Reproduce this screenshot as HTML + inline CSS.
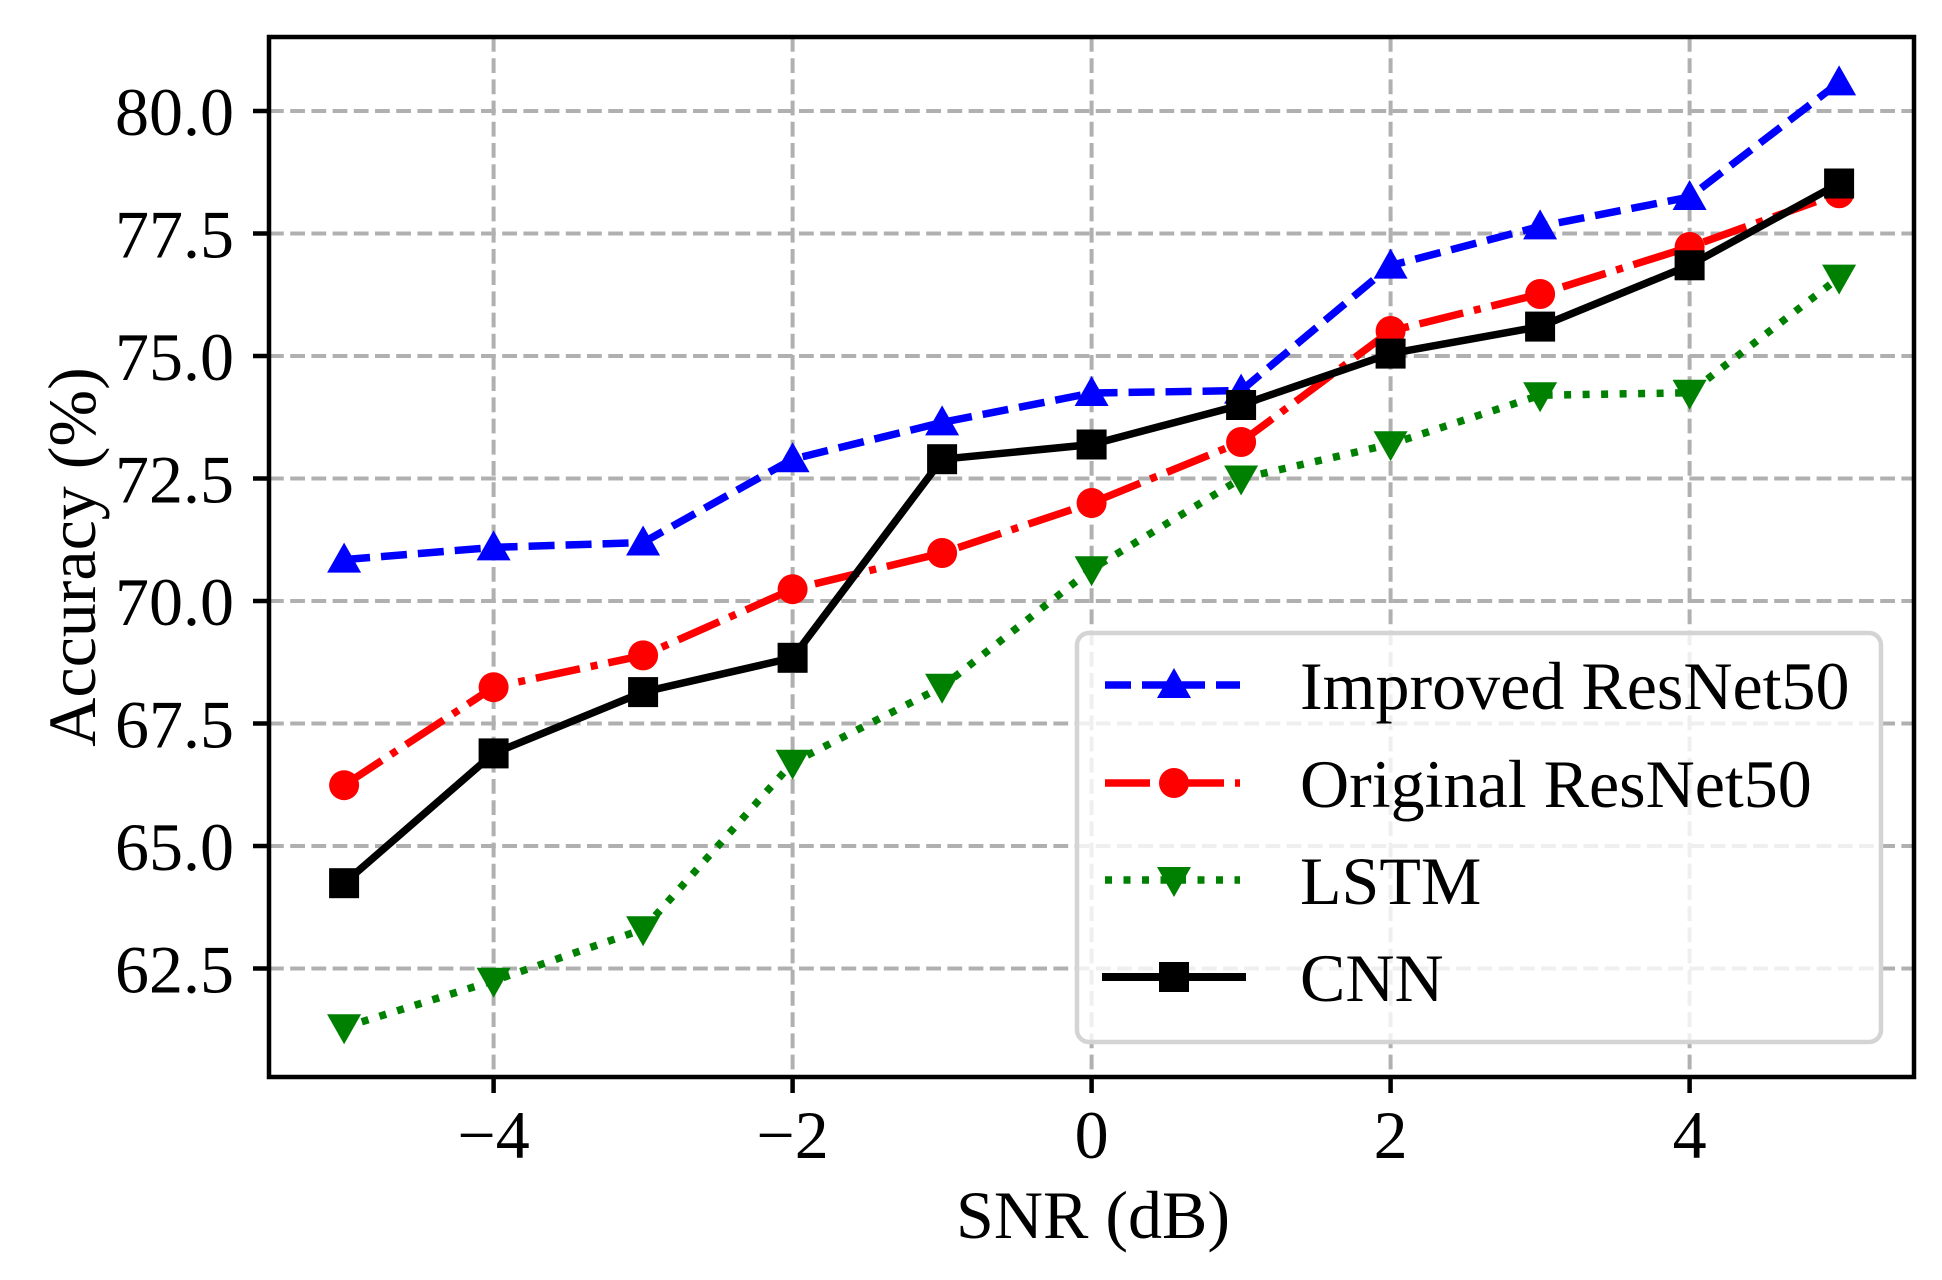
<!DOCTYPE html>
<html><head><meta charset="utf-8"><style>html,body{margin:0;padding:0;background:#fff}svg{display:block}</style></head><body>
<svg width="1942" height="1280" viewBox="0 0 1942 1280" xmlns="http://www.w3.org/2000/svg" font-family="Liberation Serif, serif">
<rect width="1942" height="1280" fill="#fff"/>
<g stroke="#b0b0b0" stroke-width="4" stroke-dasharray="14.8,6.4" fill="none">
<line x1="493.6" y1="37" x2="493.6" y2="1077"/>
<line x1="792.6" y1="37" x2="792.6" y2="1077"/>
<line x1="1091.6" y1="37" x2="1091.6" y2="1077"/>
<line x1="1390.6" y1="37" x2="1390.6" y2="1077"/>
<line x1="1689.6" y1="37" x2="1689.6" y2="1077"/>
<line x1="269" y1="111" x2="1914" y2="111"/>
<line x1="269" y1="233.5" x2="1914" y2="233.5"/>
<line x1="269" y1="356" x2="1914" y2="356"/>
<line x1="269" y1="478.5" x2="1914" y2="478.5"/>
<line x1="269" y1="601" x2="1914" y2="601"/>
<line x1="269" y1="723.5" x2="1914" y2="723.5"/>
<line x1="269" y1="846" x2="1914" y2="846"/>
<line x1="269" y1="968.5" x2="1914" y2="968.5"/>
</g>
<!-- Improved -->
<polyline fill="none" stroke="#0000ff" stroke-width="7.5" stroke-dasharray="26,11" points="344.1,559.6 493.6,547.4 643.1,542.5 792.6,459.2 942.1,422.4 1091.6,393.0 1241.1,390.6 1390.6,265.6 1540.1,226.4 1689.6,197.0 1839.1,82.4"/>
<g fill="#0000ff">
<path d="M0,-17 L17,13 L-17,13 Z" transform="translate(344.1,559.6)"/>
<path d="M0,-17 L17,13 L-17,13 Z" transform="translate(493.6,547.4)"/>
<path d="M0,-17 L17,13 L-17,13 Z" transform="translate(643.1,542.5)"/>
<path d="M0,-17 L17,13 L-17,13 Z" transform="translate(792.6,459.2)"/>
<path d="M0,-17 L17,13 L-17,13 Z" transform="translate(942.1,422.4)"/>
<path d="M0,-17 L17,13 L-17,13 Z" transform="translate(1091.6,393.0)"/>
<path d="M0,-17 L17,13 L-17,13 Z" transform="translate(1241.1,390.6)"/>
<path d="M0,-17 L17,13 L-17,13 Z" transform="translate(1390.6,265.6)"/>
<path d="M0,-17 L17,13 L-17,13 Z" transform="translate(1540.1,226.4)"/>
<path d="M0,-17 L17,13 L-17,13 Z" transform="translate(1689.6,197.0)"/>
<path d="M0,-17 L17,13 L-17,13 Z" transform="translate(1839.1,82.4)"/>
</g>
<!-- Original -->
<polyline fill="none" stroke="#ff0000" stroke-width="7.5" stroke-dasharray="45,11,7,11" points="344.1,785.2 493.6,687.2 643.1,655.4 792.6,589.2 942.1,553.0 1091.6,503.0 1241.1,442.0 1390.6,331.0 1540.1,294.0 1689.6,247.0 1839.1,193.3"/>
<g fill="#ff0000">
<circle cx="344.1" cy="785.2" r="15"/><circle cx="493.6" cy="687.2" r="15"/><circle cx="643.1" cy="655.4" r="15"/><circle cx="792.6" cy="589.2" r="15"/><circle cx="942.1" cy="553.0" r="15"/><circle cx="1091.6" cy="503.0" r="15"/><circle cx="1241.1" cy="442.0" r="15"/><circle cx="1390.6" cy="331.0" r="15"/><circle cx="1540.1" cy="294.0" r="15"/><circle cx="1689.6" cy="247.0" r="15"/><circle cx="1839.1" cy="193.3" r="15"/>
</g>
<!-- LSTM -->
<polyline fill="none" stroke="#008000" stroke-width="7.5" stroke-dasharray="7,11.5" points="344.1,1027.3 493.6,980.8 643.1,929.3 792.6,762.7 942.1,686.8 1091.6,569.2 1241.1,478.5 1390.6,444.2 1540.1,395.2 1689.6,392.8 1839.1,277.6"/>
<g fill="#008000">
<path d="M0,17 L17,-13 L-17,-13 Z" transform="translate(344.1,1027.3)"/>
<path d="M0,17 L17,-13 L-17,-13 Z" transform="translate(493.6,980.8)"/>
<path d="M0,17 L17,-13 L-17,-13 Z" transform="translate(643.1,929.3)"/>
<path d="M0,17 L17,-13 L-17,-13 Z" transform="translate(792.6,762.7)"/>
<path d="M0,17 L17,-13 L-17,-13 Z" transform="translate(942.1,686.8)"/>
<path d="M0,17 L17,-13 L-17,-13 Z" transform="translate(1091.6,569.2)"/>
<path d="M0,17 L17,-13 L-17,-13 Z" transform="translate(1241.1,478.5)"/>
<path d="M0,17 L17,-13 L-17,-13 Z" transform="translate(1390.6,444.2)"/>
<path d="M0,17 L17,-13 L-17,-13 Z" transform="translate(1540.1,395.2)"/>
<path d="M0,17 L17,-13 L-17,-13 Z" transform="translate(1689.6,392.8)"/>
<path d="M0,17 L17,-13 L-17,-13 Z" transform="translate(1839.1,277.6)"/>
</g>
<!-- CNN -->
<polyline fill="none" stroke="#000" stroke-width="7.5" points="344.1,883.2 493.6,753.4 643.1,692.1 792.6,657.8 942.1,459.2 1091.6,444.5 1241.1,405.0 1390.6,353.6 1540.1,326.6 1689.6,265.3 1839.1,183.5"/>
<g fill="#000">
<rect x="329.1" y="868.2" width="30" height="30"/><rect x="478.6" y="738.4" width="30" height="30"/><rect x="628.1" y="677.1" width="30" height="30"/><rect x="777.6" y="642.8" width="30" height="30"/><rect x="927.1" y="444.2" width="30" height="30"/><rect x="1076.6" y="429.5" width="30" height="30"/><rect x="1226.1" y="390.0" width="30" height="30"/><rect x="1375.6" y="338.6" width="30" height="30"/><rect x="1525.1" y="311.6" width="30" height="30"/><rect x="1674.6" y="250.3" width="30" height="30"/><rect x="1824.1" y="168.5" width="30" height="30"/>
</g>
<!-- spines -->
<rect x="269" y="37" width="1645" height="1040" fill="none" stroke="#000" stroke-width="4.5"/>
<g stroke="#000" stroke-width="4.5">
<line x1="253" y1="111" x2="269" y2="111"/><line x1="253" y1="233.5" x2="269" y2="233.5"/><line x1="253" y1="356" x2="269" y2="356"/><line x1="253" y1="478.5" x2="269" y2="478.5"/><line x1="253" y1="601" x2="269" y2="601"/><line x1="253" y1="723.5" x2="269" y2="723.5"/><line x1="253" y1="846" x2="269" y2="846"/><line x1="253" y1="968.5" x2="269" y2="968.5"/>
<line x1="493.6" y1="1077" x2="493.6" y2="1093"/><line x1="792.6" y1="1077" x2="792.6" y2="1093"/><line x1="1091.6" y1="1077" x2="1091.6" y2="1093"/><line x1="1390.6" y1="1077" x2="1390.6" y2="1093"/><line x1="1689.6" y1="1077" x2="1689.6" y2="1093"/>
</g>
<g font-size="68" text-anchor="end" fill="#000">
<text x="234" y="135">80.0</text><text x="234" y="257.5">77.5</text><text x="234" y="380">75.0</text><text x="234" y="502.5">72.5</text><text x="234" y="625">70.0</text><text x="234" y="747.5">67.5</text><text x="234" y="870">65.0</text><text x="234" y="992.5">62.5</text>
</g>
<g font-size="68" text-anchor="middle" fill="#000">
<text x="493.6" y="1158">−4</text><text x="792.6" y="1158">−2</text><text x="1091.6" y="1158">0</text><text x="1390.6" y="1158">2</text><text x="1689.6" y="1158">4</text>
<text x="1093" y="1238">SNR (dB)</text>
<text transform="translate(95,557) rotate(-90)">Accuracy (%)</text>
</g>
<!-- legend -->
<rect x="1077" y="633" width="804" height="409" rx="12" fill="#fff" fill-opacity="0.8" stroke="#d4d4d4" stroke-width="4.5"/>
<line x1="1105" y1="685" x2="1240" y2="685" stroke="#0000ff" stroke-width="7.5" stroke-dasharray="26,11"/>
<path d="M0,-17 L17,13 L-17,13 Z" transform="translate(1174,685)" fill="#0000ff"/>
<line x1="1105" y1="783" x2="1240" y2="783" stroke="#ff0000" stroke-width="7.5" stroke-dasharray="45,11,7,11"/>
<circle cx="1174" cy="783" r="15" fill="#ff0000"/>
<line x1="1105" y1="880" x2="1240" y2="880" stroke="#008000" stroke-width="7.5" stroke-dasharray="7,11.5"/>
<path d="M0,17 L17,-13 L-17,-13 Z" transform="translate(1174,880)" fill="#008000"/>
<line x1="1102" y1="977" x2="1246" y2="977" stroke="#000" stroke-width="8"/>
<rect x="1159" y="962" width="30" height="30" fill="#000"/>
<g font-size="68" fill="#000">
<text x="1300" y="709">Improved ResNet50</text>
<text x="1300" y="807">Original ResNet50</text>
<text x="1300" y="904">LSTM</text>
<text x="1300" y="1001">CNN</text>
</g>
</svg>
</body></html>
